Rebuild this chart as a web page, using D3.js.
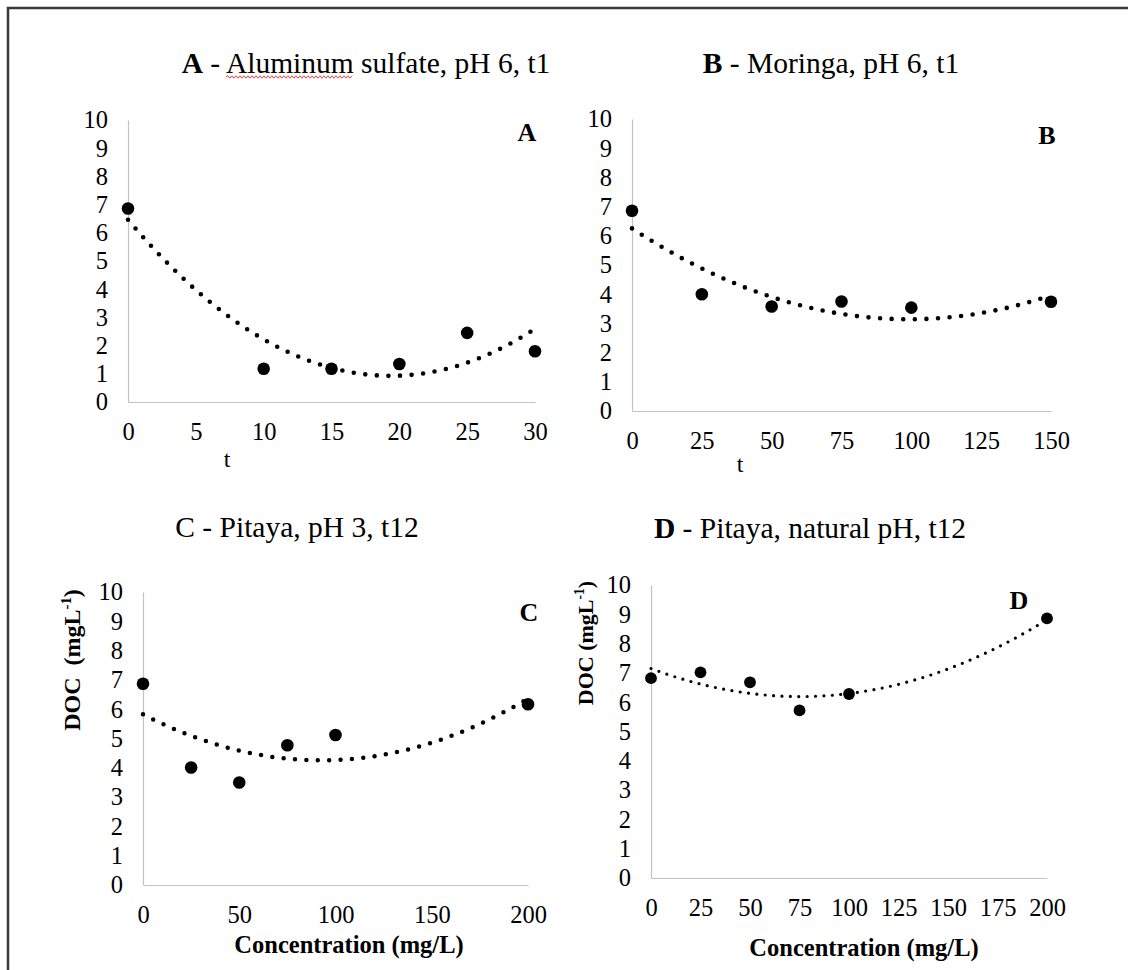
<!DOCTYPE html>
<html>
<head>
<meta charset="utf-8">
<script src="https://cdn.jsdelivr.net/npm/d3@7"></script>
</head>
<body style="margin:0;background:#fff">
<div id="chart"></div>
<script>
// ---- data ----
// A - Aluminum sulfate, pH 6, t1
const concA = [0, 10, 15, 20, 25, 30];
const docA  = [6.86, 1.18, 1.18, 1.35, 2.45, 1.8];
const ticksA = [0, 5, 10, 15, 20, 25, 30];
// B - Moringa, pH 6, t1
const concB = [0, 25, 50, 75, 100, 150];
const docB  = [6.86, 4.0, 3.58, 3.75, 3.54, 3.74];
const ticksB = [0, 25, 50, 75, 100, 125, 150];
// C - Pitaya, pH 3, t12
const concC = [0, 25, 50, 75, 100, 200];
const docC  = [6.87, 4.01, 3.5, 4.77, 5.12, 6.17];
const ticksC = [0, 50, 100, 150, 200];
// D - Pitaya, natural pH, t12
const concD = [0, 25, 50, 75, 100, 200];
const docD  = [6.82, 7.02, 6.68, 5.72, 6.28, 8.86];
const ticksD = [0, 25, 50, 75, 100, 125, 150, 175, 200];

const yTicks = [0, 1, 2, 3, 4, 5, 6, 7, 8, 9, 10];

// ---- layout ----
const W = 1128, H = 970;
const FONT = '"Liberation Serif"';
const panels = [
  {key: "A", x: concA, y: docA, ticks: ticksA, xr: [128, 535], yr: [402, 120],
   title: ["A", " - Aluminum sulfate, pH 6, t1"], titlePos: [366, 73],
   letterPos: [527, 141], xLabel: "t", xLabelPos: [227, 467], xLabelBold: false,
   dot: 4.6, gap: 11.6, r: 6.3},
  {key: "B", x: concB, y: docB, ticks: ticksB, xr: [632, 1051], yr: [411, 119],
   title: ["B", " - Moringa, pH 6, t1"], titlePos: [831, 73],
   letterPos: [1047, 144], xLabel: "t", xLabelPos: [740, 472], xLabelBold: false,
   dot: 4.6, gap: 11.6, r: 6.3},
  {key: "C", x: concC, y: docC, ticks: ticksC, xr: [143, 528], yr: [885, 592],
   title: ["", "C - Pitaya, pH 3, t12"], titlePos: [297, 537],
   letterPos: [529, 621], xLabel: "Concentration (mg/L)", xLabelPos: [349, 953], xLabelBold: true,
   yLabelPos: [72, 660], yLabelSize: 24, yLabelGap: "\u00a0\u00a0",
   dot: 4.5, gap: 11.4, r: 6.3},
  {key: "D", x: concD, y: docD, ticks: ticksD, xr: [651, 1047], yr: [878, 585],
   title: ["D", " - Pitaya, natural pH, t12"], titlePos: [810, 538],
   letterPos: [1019, 609], xLabel: "Concentration (mg/L)", xLabelPos: [864, 956], xLabelBold: true,
   yLabelPos: [585, 643], yLabelSize: 22, yLabelGap: " ",
   dot: 3.2, gap: 8.4, r: 5.9}
];

const svg = d3.select("#chart").append("svg")
  .attr("width", W).attr("height", H);
svg.append("rect").attr("width", W).attr("height", H).attr("fill", "#fff");

// outer frame (only left and top edges are inside the picture)
svg.append("path")
  .attr("d", `M8,${H + 5}V8H${W + 5}`)
  .attr("fill", "none").attr("stroke", "#3a3a3a").attr("stroke-width", 2.5);

// least squares 2nd order polynomial, like the spreadsheet trendline
function quadFit(xs, ys) {
  const S = [0, 0, 0, 0, 0], T = [0, 0, 0];
  xs.forEach((x, i) => {
    for (let k = 0; k < 5; k++) S[k] += Math.pow(x, k);
    for (let k = 0; k < 3; k++) T[k] += ys[i] * Math.pow(x, k);
  });
  const M = [[S[0], S[1], S[2], T[0]], [S[1], S[2], S[3], T[1]], [S[2], S[3], S[4], T[2]]];
  for (let i = 0; i < 3; i++)
    for (let j = i + 1; j < 3; j++) {
      const f = M[j][i] / M[i][i];
      for (let k = i; k < 4; k++) M[j][k] -= f * M[i][k];
    }
  const c = [0, 0, 0];
  for (let i = 2; i >= 0; i--) {
    let s = M[i][3];
    for (let k = i + 1; k < 3; k++) s -= M[i][k] * c[k];
    c[i] = s / M[i][i];
  }
  return x => c[0] + c[1] * x + c[2] * x * x;
}

panels.forEach(p => {
  const g = svg.append("g").attr("class", "panel-" + p.key);
  const x = d3.scaleLinear().domain([p.ticks[0], p.ticks[p.ticks.length - 1]]).range(p.xr);
  const y = d3.scaleLinear().domain([0, 10]).range(p.yr);

  // axes
  const xa = g.append("g")
    .attr("transform", `translate(0,${p.yr[0]})`)
    .call(d3.axisBottom(x).tickValues(p.ticks).tickSize(0).tickSizeOuter(0).tickPadding(20.5).tickFormat(d3.format("d")));
  const ya = g.append("g")
    .attr("transform", `translate(${p.xr[0]},0)`)
    .call(d3.axisLeft(y).tickValues(yTicks).tickSize(0).tickSizeOuter(0).tickPadding(20).tickFormat(d3.format("d")));
  [xa, ya].forEach(a => {
    a.attr("font-size", null).attr("font-family", null);
    a.select(".domain").attr("stroke", "#c3c3c3").attr("stroke-width", 1.2);
    a.selectAll("text")
      .attr("fill", "#000")
      .style("font-family", FONT)
      .style("font-size", "24.5px");
  });

  // trendline
  const f = quadFit(p.x, p.y);
  const x0 = d3.min(p.x), x1 = d3.max(p.x);
  const samples = d3.range(0, 121).map(i => x0 + (x1 - x0) * i / 120);
  g.append("path")
    .datum(samples)
    .attr("fill", "none")
    .attr("stroke", "#000")
    .attr("stroke-width", p.dot)
    .attr("stroke-linecap", "round")
    .attr("stroke-dasharray", `0 ${p.gap}`)
    .attr("d", d3.line().x(d => x(d)).y(d => y(f(d))));

  // data markers
  g.selectAll("circle.pt")
    .data(p.x.map((v, i) => ({c: v, d: p.y[i]})))
    .join("circle")
    .attr("class", "pt")
    .attr("cx", d => x(d.c))
    .attr("cy", d => y(d.d))
    .attr("r", p.r)
    .attr("fill", "#000");

  // panel title
  const t = g.append("text")
    .attr("x", p.titlePos[0]).attr("y", p.titlePos[1])
    .attr("text-anchor", "middle")
    .style("font-family", FONT).style("font-size", "29.5px");
  if (p.title[0]) t.append("tspan").attr("font-weight", "bold").text(p.title[0]);
  t.append("tspan").text(p.title[1]);

  // spell-check squiggle under "Aluminum" (as in the source figure)
  if (p.key === "A") {
    const node = t.node();
    const full = p.title.join("");
    const i0 = full.indexOf("Aluminum");
    const sx = node.getStartPositionOfChar(i0).x;
    const ex = node.getEndPositionOfChar(i0 + 7).x;
    const wy = p.titlePos[1] + 4;
    let d = `M${sx},${wy}`;
    let up = true;
    for (let xx = sx + 2; xx <= ex; xx += 2) { d += `L${xx},${wy + (up ? -1.2 : 1.2)}`; up = !up; }
    g.append("path").attr("d", d).attr("fill", "none").attr("stroke", "#e0312f").attr("stroke-width", 0.9);
  }

  // corner letter
  g.append("text")
    .attr("x", p.letterPos[0]).attr("y", p.letterPos[1])
    .attr("text-anchor", "middle").attr("font-weight", "bold")
    .style("font-family", FONT).style("font-size", "26px")
    .text(p.key);

  // x axis label
  g.append("text")
    .attr("x", p.xLabelPos[0]).attr("y", p.xLabelPos[1])
    .attr("text-anchor", "middle")
    .attr("font-weight", p.xLabelBold ? "bold" : "normal")
    .style("font-family", FONT)
    .style("font-size", (p.xLabelBold ? 24.5 : 24) + "px")
    .text(p.xLabel);

  // y axis label
  if (p.yLabelPos) {
    const s = p.yLabelSize;
    const yl = g.append("text")
      .attr("transform", `translate(${p.yLabelPos[0]},${p.yLabelPos[1]}) rotate(-90)`)
      .attr("text-anchor", "middle").attr("dy", "0.35em")
      .attr("font-weight", "bold")
      .style("font-family", FONT).style("font-size", s + "px");
    yl.append("tspan").text("DOC" + p.yLabelGap + "(mgL");
    yl.append("tspan").style("font-size", (s * 0.62) + "px").attr("dy", -s * 0.38).text("-1");
    yl.append("tspan").attr("dy", s * 0.38).text(")");
  }
});
</script>
</body>
</html>
